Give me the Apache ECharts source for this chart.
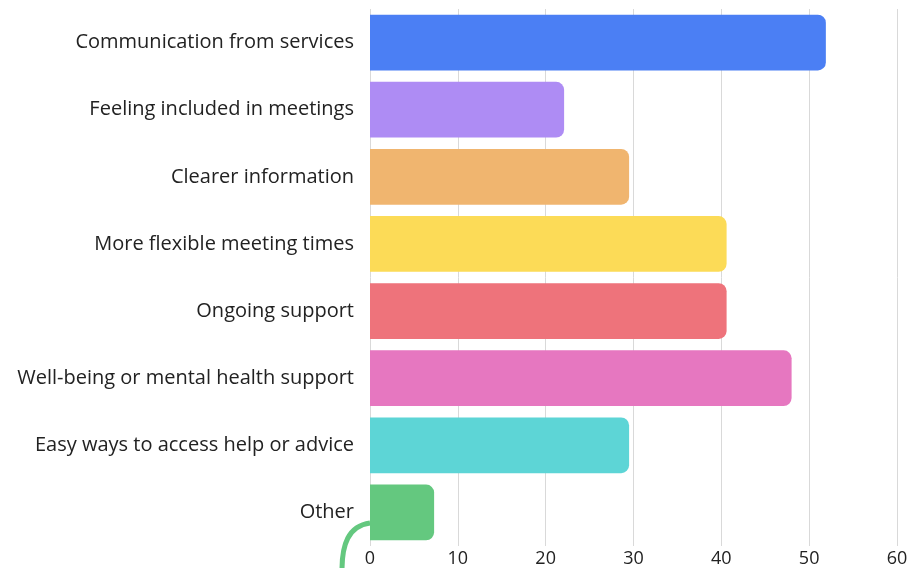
<!DOCTYPE html>
<html>
<head>
<meta charset="utf-8">
<script src="https://cdn.jsdelivr.net/npm/echarts@6/dist/echarts.min.js"></script>
<style>
html,body{margin:0;padding:0;background:#fff;}
#chart{width:908px;height:568px;}
</style>
</head>
<body>
<div id="chart"></div>
<script>
const categories = [
  "Communication from services",
  "Feeling included in meetings",
  "Clearer information",
  "More flexible meeting times",
  "Ongoing support",
  "Well-being or mental health support",
  "Easy ways to access help or advice",
  "Other"
];
const values = [51.9, 22.1, 29.5, 40.6, 40.6, 48.0, 29.5, 7.3];
const colors = ["#4b7ff4", "#ae8cf4", "#f0b56f", "#fcdb57", "#ee737b", "#e677c0", "#5dd5d6", "#64c87f"];
const xTicks = [0, 10, 20, 30, 40, 50, 60];

const chart = echarts.init(document.getElementById('chart'));
chart.setOption({
  animation: false,
  backgroundColor: '#ffffff',
  grid: { left: 370, right: 11, top: 9, bottom: 22, containLabel: false, outerBoundsMode: 'none' },
  xAxis: {
    type: 'value',
    min: xTicks[0],
    max: xTicks[xTicks.length - 1],
    interval: 10,
    axisLine: { show: false },
    axisTick: { show: false },
    axisLabel: { color: '#222', fontSize: 18, fontFamily: 'Open Sans', margin: 4 },
    splitLine: { show: true, lineStyle: { color: '#d9d9d9', width: 1 } }
  },
  yAxis: {
    type: 'category',
    data: categories,
    inverse: true,
    axisLine: { show: false },
    axisTick: { show: false },
    axisLabel: { color: '#222', fontSize: 20, fontFamily: 'Open Sans', margin: 16 }
  },
  series: [{
    type: 'bar',
    barCategoryGap: '17%',
    data: values.map((v, i) => ({ value: v, itemStyle: { color: colors[i] } })),
    itemStyle: { borderRadius: [0, 8, 8, 0] }
  }],
  graphic: [{
    type: 'bezierCurve',
    z: -1,
    shape: { x1: 370, y1: 523, x2: 342, y2: 570, cpx1: 348, cpy1: 526, cpx2: 342, cpy2: 545 },
    style: { stroke: '#64c87f', lineWidth: 5, fill: null }
  }]
});
</script>
</body>
</html>
